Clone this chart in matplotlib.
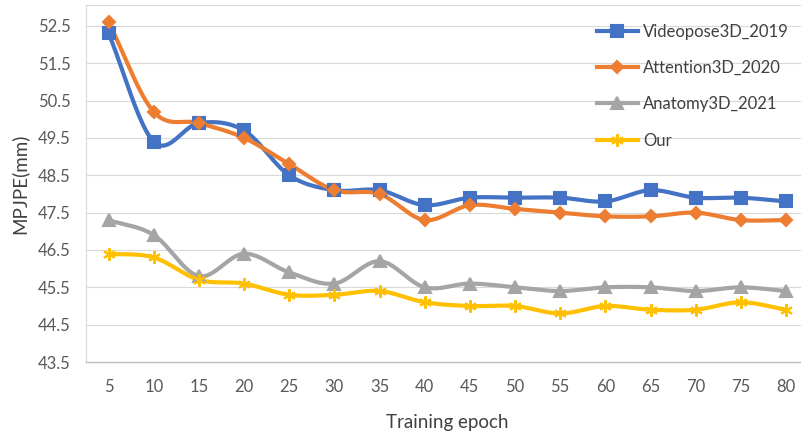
import numpy as np
import matplotlib
matplotlib.use('Agg')
import matplotlib.pyplot as plt

# Data
epochs = [5, 10, 15, 20, 25, 30, 35, 40, 45, 50, 55, 60, 65, 70, 75, 80]
videopose = [52.3, 49.4, 49.9, 49.7, 48.5, 48.1, 48.1, 47.7, 47.9, 47.9, 47.9, 47.8, 48.1, 47.9, 47.9, 47.8]
attention = [52.6, 50.2, 49.9, 49.5, 48.8, 48.1, 48.0, 47.3, 47.7, 47.6, 47.5, 47.4, 47.4, 47.5, 47.3, 47.3]
anatomy = [47.3, 46.9, 45.8, 46.4, 45.9, 45.6, 46.2, 45.5, 45.6, 45.5, 45.4, 45.5, 45.5, 45.4, 45.5, 45.4]
ours = [46.4, 46.3, 45.7, 45.6, 45.3, 45.3, 45.4, 45.1, 45.0, 45.0, 44.8, 45.0, 44.9, 44.9, 45.1, 44.9]
y_ticks = [43.5, 44.5, 45.5, 46.5, 47.5, 48.5, 49.5, 50.5, 51.5, 52.5]

plt.rcParams['font.family'] = ['Lato', 'DejaVu Sans']


def smooth(x, y, n=24):
    # Catmull-Rom curve through the points, like Excel's smoothed line
    x = np.asarray(x, float)
    y = np.asarray(y, float)
    px = np.concatenate([[2 * x[0] - x[1]], x, [2 * x[-1] - x[-2]]])
    py = np.concatenate([[2 * y[0] - y[1]], y, [2 * y[-1] - y[-2]]])
    t = np.linspace(0, 1, n, endpoint=False)
    xs, ys = [], []
    for i in range(1, len(px) - 2):
        for p, out in ((px, xs), (py, ys)):
            p0, p1, p2, p3 = p[i - 1], p[i], p[i + 1], p[i + 2]
            out.extend(0.5 * (2 * p1 + (-p0 + p2) * t
                              + (2 * p0 - 5 * p1 + 4 * p2 - p3) * t ** 2
                              + (-p0 + 3 * p1 - 3 * p2 + p3) * t ** 3))
    xs.append(x[-1])
    ys.append(y[-1])
    return xs, ys


fig = plt.figure(figsize=(8.01, 4.36), dpi=100)
ax = fig.add_axes([86 / 801, 1 - 362 / 436, 722.6 / 801, 357 / 436])

series = [
    ('Videopose3D_2019', videopose, '#4472C4', 's', 8),
    ('Attention3D_2020', attention, '#ED7D31', 'D', 6.5),
    ('Anatomy3D_2021', anatomy, '#A5A5A5', '^', 8),
    ('Our', ours, '#FFC000', (6, 2, 0), 9),
]
for name, vals, color, marker, ms in series:
    sx, sy = smooth(epochs, vals)
    ax.plot(sx, sy, color=color, lw=3, solid_capstyle='round', zorder=3)
    ax.plot(epochs, vals, ls='none', marker=marker, ms=ms, color=color,
            mec=color, mew=1.5, zorder=4)
    ax.plot([], [], color=color, lw=3, marker=marker, ms=ms, mec=color,
            mew=1.5, label=name)

ax.set_xlim(2.5, 82.5)
ax.set_ylim(43.5, 53.06)
ax.set_xticks(epochs)
ax.set_yticks(y_ticks)
ax.set_yticklabels([f'{v:.1f}' for v in y_ticks])
ax.grid(axis='y', color='#D9D9D9', lw=0.8)
ax.set_axisbelow(True)
ax.tick_params(length=0, labelsize=12, colors='#595959')
ax.tick_params(axis='y', pad=11)
ax.tick_params(axis='x', pad=12)
for s in ['left', 'top', 'right']:
    ax.spines[s].set_color('#D9D9D9')
    ax.spines[s].set_linewidth(0.8)
ax.spines['bottom'].set_color('#BFBFBF')
ax.spines['bottom'].set_linewidth(1)

ax.set_ylabel('MPJPE(mm)', fontsize=13.5, color='#404040', labelpad=7)
fig.text(447 / 801, 1 - 422 / 436, 'Training epoch', fontsize=13.5,
         color='#404040', ha='center', va='center')

ax.legend(loc='upper left', bbox_to_anchor=(597 / 801, 1 - 23.5 / 436),
          bbox_transform=fig.transFigure, frameon=False, fontsize=12,
          handlelength=2.45, handletextpad=0.3, labelspacing=1.22,
          labelcolor='#404040', borderpad=0, borderaxespad=0)

fig.savefig('out.png', dpi=100)
